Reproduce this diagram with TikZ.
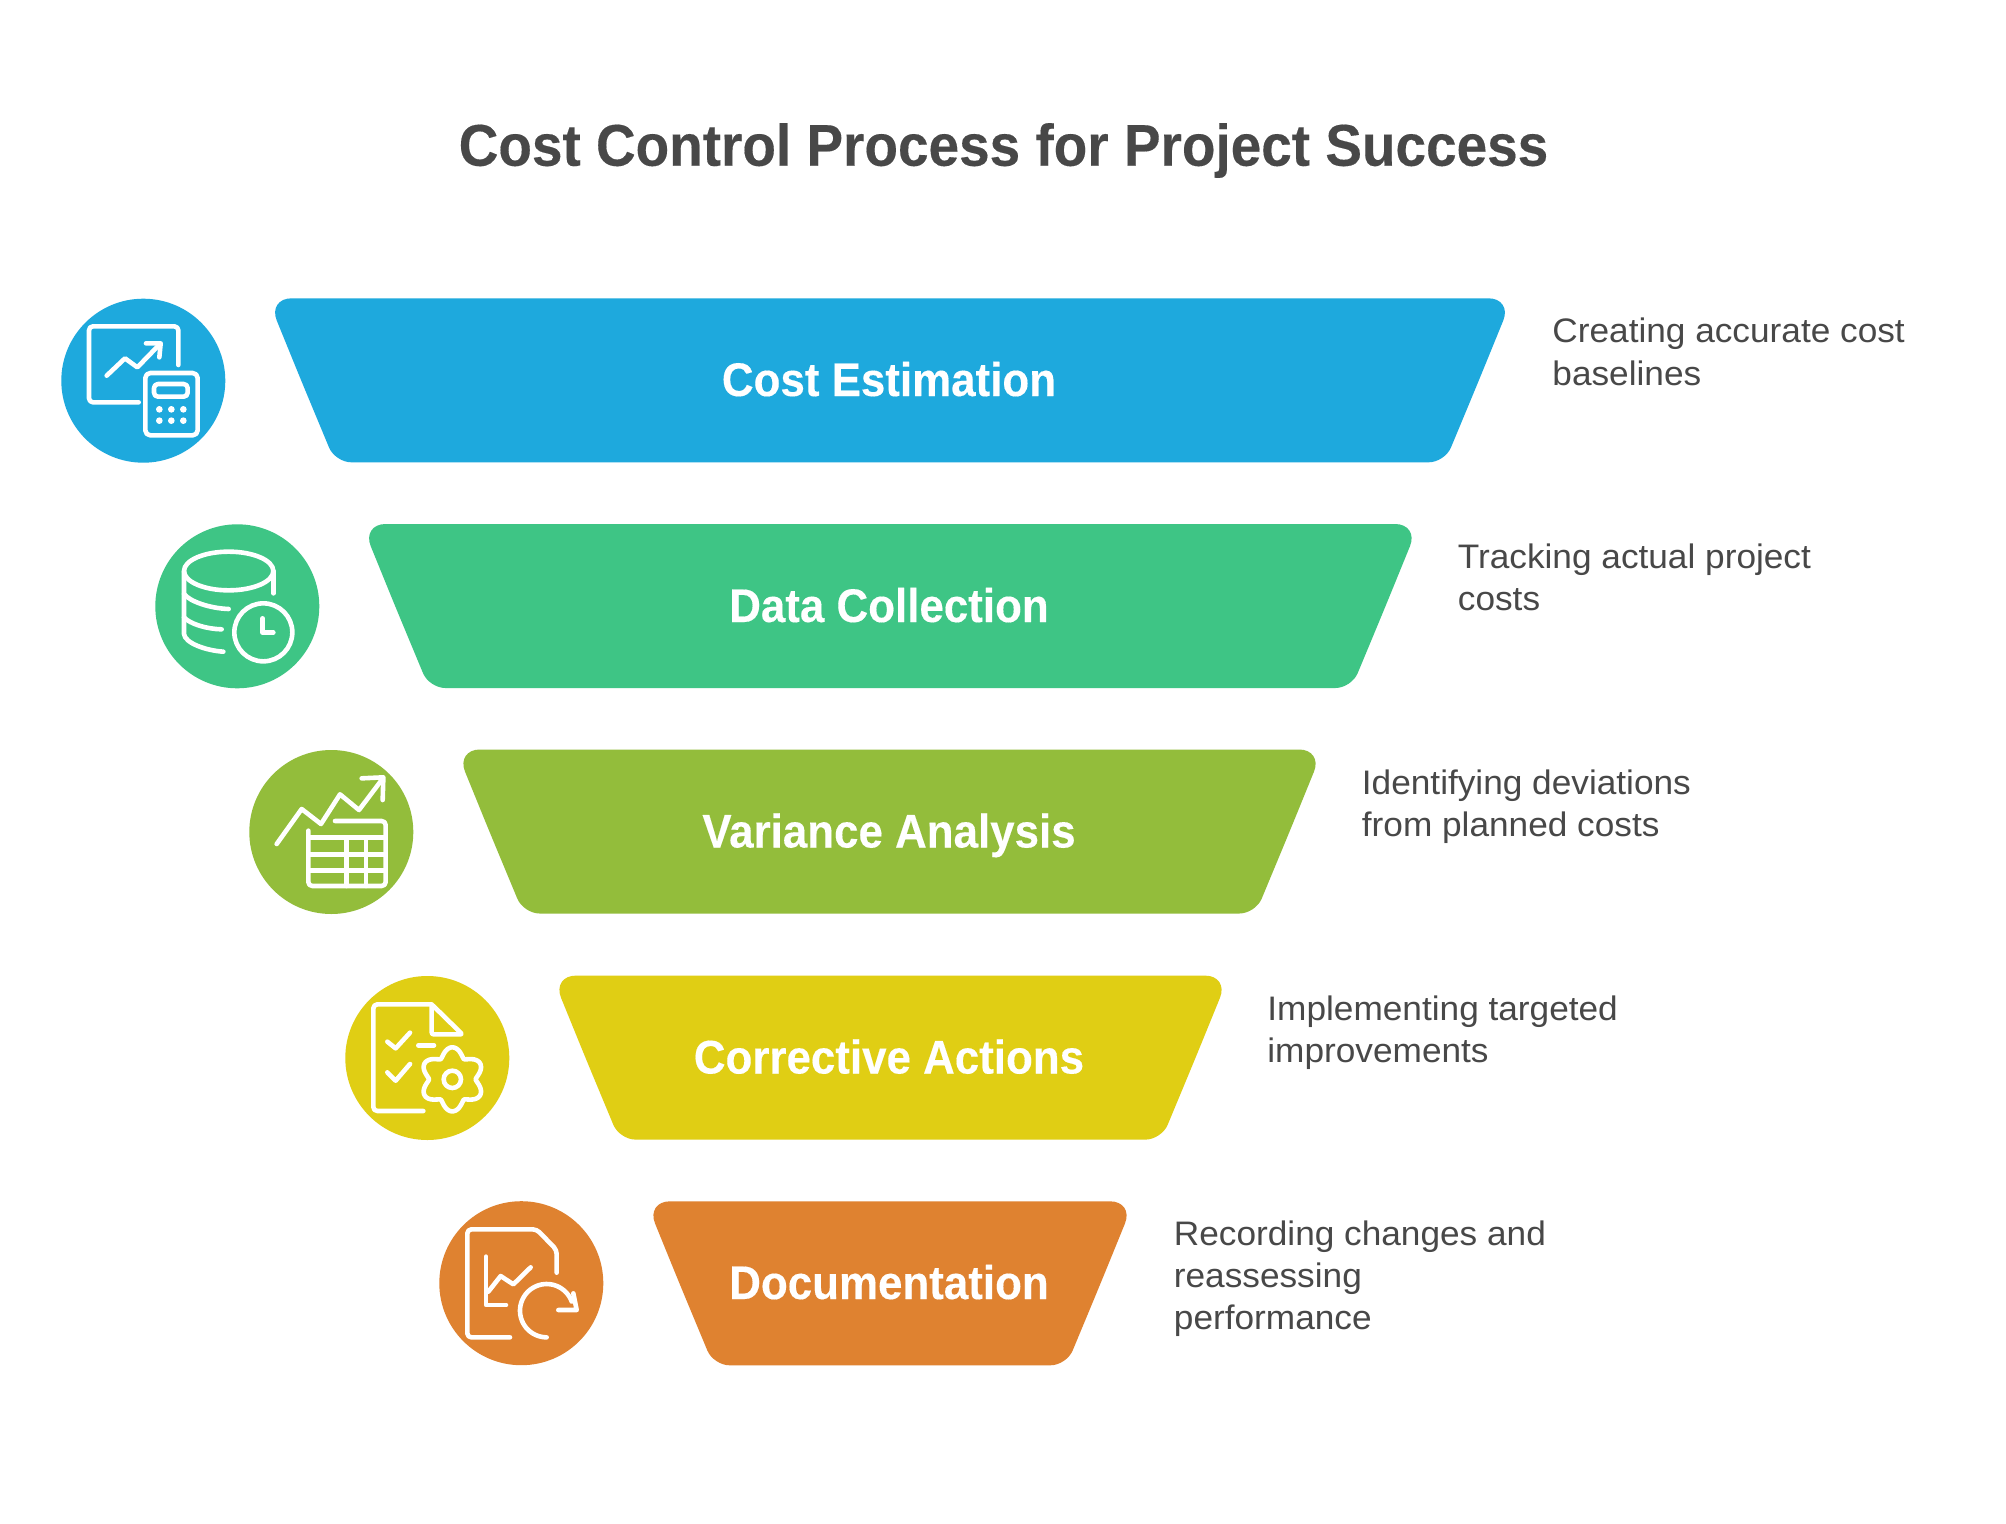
\documentclass[tikz,border=0pt]{standalone}
\usepackage{fontspec}
\setmainfont[FakeStretch=1.036]{Liberation Sans}
\newfontfamily\titlefont[FakeStretch=0.934,FakeBold=0.25]{Liberation Sans Bold}
\newfontfamily\labelfont[FakeStretch=0.93,FakeBold=0.25]{Liberation Sans Bold}
\definecolor{ttl}{HTML}{484848}
\definecolor{blu}{HTML}{1EA9DD}
\definecolor{grn}{HTML}{3EC585}
\definecolor{olv}{HTML}{93BD3B}
\definecolor{ylw}{HTML}{E0CE14}
\definecolor{org}{HTML}{DF8230}
\tikzset{
 icon/.style={draw=white,line width=2.3pt,line cap=round,line join=round},
 iconframe/.style={x=0.16667pt,y=-0.16667pt,every path/.style={icon}},
 ttitle/.style={anchor=base,inner sep=0pt,text=ttl,font=\titlefont\fontsize{29.4}{34}\selectfont},
 lab/.style={anchor=base,inner sep=0pt,text=white,font=\labelfont\fontsize{23.6}{28}\selectfont},
 desc/.style={anchor=base west,inner sep=0pt,text=ttl,font=\fontsize{17}{21}\selectfont},
}
\newcommand{\rowshape}[4]{% color, topy, left top, right top
 \fill[#1] ({(#3+#4)/2},#2) [rounded corners=12pt] -- (#4,#2) -- ({#4-33.4},{#2+82}) [rounded corners=8pt] -- ({#4-67.5},{#2+164}) -- ({(#3+#4)/2},{#2+164}) -- ({#3+67.5},{#2+164}) -- ({#3+33.4},{#2+82}) [rounded corners=12pt] -- (#3,#2) -- cycle;
}
\begin{document}
\begin{tikzpicture}[x=0.5pt,y=-0.5pt]
\useasboundingbox (0,0) rectangle (2006,1524);
\fill[white] (0,0) rectangle (2006,1524);
\node[ttitle] (title) at (1003.5,165.7) {Cost Control Process for Project Success};
% rows
\rowshape{blu}{298.3}{267.7}{1512.3}
\rowshape{grn}{524}{361.7}{1419}
\rowshape{olv}{749.5}{456}{1323}
\rowshape{ylw}{975.6}{552}{1229}
\rowshape{org}{1201.3}{646}{1134}
\fill[blu] (143.3,380.7) circle[radius=82];
\fill[grn] (237.3,606.3) circle[radius=82];
\fill[olv] (331.3,832) circle[radius=82];
\fill[ylw] (427.3,1058) circle[radius=82];
\fill[org] (521.3,1283.2) circle[radius=82];
\node[lab] (l1) at (889,396) {Cost Estimation};
\node[lab] (l2) at (889,622) {Data Collection};
\node[lab] (l3) at (889,847.5) {Variance Analysis};
\node[lab] (l4) at (889,1073.5) {Corrective Actions};
\node[lab] (l5) at (889,1299) {Documentation};
\node[desc] (d1a) at (1552,343) {Creating accurate cost};
\node[desc] (d1b) at (1552,385.5) {baselines};
\node[desc] (d2a) at (1457.5,568) {Tracking actual project};
\node[desc] (d2b) at (1457.5,610.5) {costs};
\node[desc] (d3a) at (1361.5,794) {Identifying deviations};
\node[desc] (d3b) at (1361.5,836) {from planned costs};
\node[desc] (d4a) at (1267,1020) {Implementing targeted};
\node[desc] (d4b) at (1267,1062) {improvements};
\node[desc] (d5a) at (1173.5,1245) {Recording changes and};
\node[desc] (d5b) at (1173.5,1287) {reassessing};
\node[desc] (d5c) at (1173.5,1329) {performance};
% icon 1
\begin{scope}[shift={(40,280)},iconframe]
\draw[rounded corners=2pt] (296,367) -- (147,367) -- (147,139) -- (415,139) -- (415,255);
\draw (200,287) -- (255,235) -- (292,262) -- (360,192);
\draw (318,190) -- (362,190) -- (358,232);
\draw[rounded corners=2.5pt] (316,279) rectangle (473,466);
\draw[rounded corners=2pt] (342,312) rectangle (443,350);
\foreach \p in {358,394,430}{\fill[white,draw=none] (\p,388) circle[radius=10]; \fill[white,draw=none] (\p,422) circle[radius=10];}
\end{scope}
% icon 2
\begin{scope}[shift={(140,510)},iconframe]
\draw (266,183) circle[x radius=134,y radius=58];
\draw (400,183) -- (400,250);
\draw (132,183) -- (132,372) .. controls (135,400) and (200,422) .. (250,425);
\draw (132,252) .. controls (150,275) and (210,295) .. (266,297);
\draw (132,322) .. controls (150,342) and (200,357) .. (245,358);
\draw (370,367) circle[radius=87];
\draw (368,325) -- (368,368) -- (400,368);
\end{scope}
% icon 3
\begin{scope}[shift={(235,740)},iconframe]
\draw (125,312) -- (200,207) -- (258,252) -- (315,163) -- (372,210) -- (440,120);
\draw (380,115) -- (445,112) -- (443,180);
\draw[rounded corners=2pt] (300,243) -- (452,243) -- (452,438) -- (220,438) -- (220,272);
\draw (220,292) -- (452,292) (220,343) -- (452,343) (220,392) -- (452,392);
\draw (335,292) -- (335,438) (393,292) -- (393,438);
\end{scope}
% icon 4
\begin{scope}[shift={(335,965)},iconframe,declare function={lobe(\t)=70+26*abs(cos(3*(\t-90)))*sqrt(abs(cos(3*(\t-90))));}]
\draw[rounded corners=2pt] (265,438) -- (115,438) -- (115,118) -- (290,118);
\draw[rounded corners=1pt] (290,118) -- (382,208) -- (290,208) -- cycle;
\draw (157,230) -- (182,250) -- (225,203);
\draw (157,322) -- (182,347) -- (225,297);
\draw (250,241) -- (297,241);
\draw (352,343) circle[radius=26];
\draw plot[domain=0:360,samples=181,smooth] ({352+lobe(\x)*cos(\x)},{343+lobe(\x)*sin(\x)});
\end{scope}
% icon 5
\begin{scope}[shift={(430,1190)},iconframe]
\draw[rounded corners=2pt] (240,442) -- (112,442) -- (112,118) -- (320,118) -- (380,180) -- (380,248);
\draw (168,200) -- (168,345) -- (228,345);
\draw (175,305) -- (212,258) -- (250,283) -- (302,232);
\draw plot[domain=90:340,samples=50,smooth] ({350+80*cos(\x)},{362+80*sin(\x)});
\draw (385,360) -- (440,360) -- (430,310);
\end{scope}
\end{tikzpicture}
\end{document}
